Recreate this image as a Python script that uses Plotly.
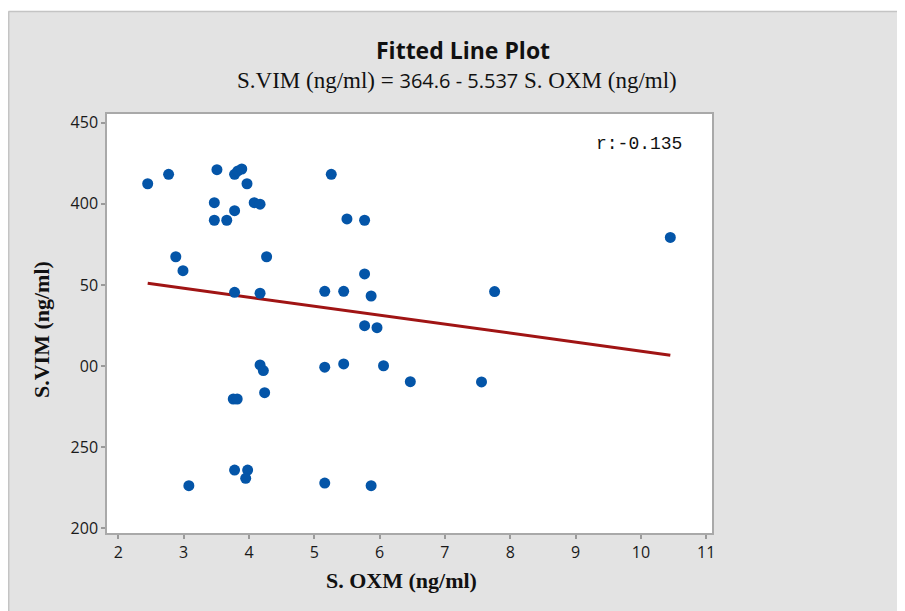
import plotly.graph_objects as go

# --- data ---
oxm = [2.45, 2.77, 3.51, 3.78, 3.83, 3.89, 3.97, 3.47, 3.78, 3.47, 3.66, 4.08, 4.17,
       5.26, 5.50, 5.77, 2.88, 2.99, 4.27, 3.78, 4.17, 5.16, 5.45, 5.77, 5.87, 5.77,
       5.96, 4.17, 4.22, 5.16, 5.45, 6.06, 6.47, 3.76, 3.82, 4.24, 3.78, 3.98, 3.95,
       3.08, 5.16, 5.87, 10.45, 7.76, 7.56]
vim = [412.4, 418.2, 421.1, 418.2, 420.3, 421.5, 412.4, 400.7, 395.8, 389.9, 389.9, 400.7, 399.8,
       418.2, 390.7, 389.9, 367.4, 358.8, 367.4, 345.5, 344.9, 346.1, 346.1, 356.8, 343.2, 324.9,
       323.7, 300.7, 297.2, 299.3, 301.3, 300.2, 290.4, 279.7, 279.7, 283.6, 235.9, 235.9, 230.8,
       226.3, 227.9, 226.3, 379.3, 345.9, 290.2]

intercept = 364.6
slope = -5.537
r_value = -0.135

x_ticks = [2, 3, 4, 5, 6, 7, 8, 9, 10, 11]
x_ticktext = ["2", "3", "4", "5", "6", "7", "8", "9", "10", "11"]
y_ticks = [200, 250, 300, 350, 400, 450]
y_ticktext = ["200", "250", "00", "50", "400", "450"]

fit_x = [min(oxm), max(oxm)]
fit_y = [intercept + slope * v for v in fit_x]

fig = go.Figure()
fig.add_trace(go.Scatter(x=fit_x, y=fit_y, mode="lines",
                         line=dict(color="#a01414", width=3), hoverinfo="skip"))
fig.add_trace(go.Scatter(x=oxm, y=vim, mode="markers",
                         marker=dict(color="#0455a8", size=11, line=dict(width=0))))

OFF = 8  # page body margin
W, H = 905 - OFF, 611 - OFF
L, R, T, B = 107 - OFF, 712 - OFF, 114 - OFF, 533 - OFF
pw, ph = R - L, B - T

def px(x):
    return (x - OFF - L) / pw

def py(y):
    return (B - (y - OFF)) / ph

axis_common = dict(showgrid=False, zeroline=False, showline=True, linecolor="#a9a9a9",
                   linewidth=1.5, mirror=True, ticks="outside", ticklen=4,
                   tickcolor="#9a9a9a", tickwidth=1.5,
                   tickfont=dict(family="Open Sans, Noto Sans, sans-serif", size=16, color="#1a1a1a"))

fig.update_layout(
    width=W, height=H,
    margin=dict(l=L, r=W - R, t=T, b=H - B, pad=0),
    paper_bgcolor="#e3e3e3", plot_bgcolor="#ffffff",
    showlegend=False,
    xaxis=dict(range=[1.827, 11.088], tickvals=x_ticks, ticktext=x_ticktext, **axis_common),
    yaxis=dict(range=[197.1, 455.4], tickvals=y_ticks, ticktext=y_ticktext, **axis_common),
    shapes=[
        dict(type="rect", xref="paper", yref="paper", x0=px(0), x1=px(920), y0=py(11), y1=py(0),
             fillcolor="#ffffff", line=dict(width=0), layer="below"),
        dict(type="line", xref="paper", yref="paper", x0=px(8.5), x1=px(920), y0=py(11.5), y1=py(11.5),
             line=dict(color="#c4c4c4", width=1.5)),
        dict(type="line", xref="paper", yref="paper", x0=px(8.7), x1=px(8.7), y0=py(11.5), y1=py(620),
             line=dict(color="#c4c4c4", width=1.5)),
    ],
    annotations=[
        dict(text="<b>Fitted Line Plot</b>", xref="paper", yref="paper", x=px(463), y=py(50),
             xanchor="center", yanchor="middle", showarrow=False,
             font=dict(family="Open Sans, Noto Sans, sans-serif", size=23, color="#111111")),
        dict(text="S.VIM (ng/ml) = <span style=\"font-family:Open Sans;font-size:20px\">364.6 - 5.537</span> S. OXM (ng/ml)",
             xref="paper", yref="paper", x=px(457), y=py(80),
             xanchor="center", yanchor="middle", showarrow=False,
             font=dict(family="Liberation Serif, Times New Roman, serif", size=23, color="#111111")),
        dict(text="r:%.3f" % r_value, xref="paper", yref="paper", x=px(684), y=py(144),
             xanchor="right", yanchor="middle", showarrow=False,
             font=dict(family="Liberation Mono, DejaVu Sans Mono, monospace", size=18, color="#111111")),
        dict(text="<b>S. OXM (ng/ml)</b>", xref="paper", yref="paper", x=px(401), y=py(580),
             xanchor="center", yanchor="middle", showarrow=False,
             font=dict(family="Liberation Serif, Times New Roman, serif", size=22, color="#111111")),
        dict(text="<b>S.VIM (ng/ml)</b>", xref="paper", yref="paper", x=px(41), y=py(330),
             xanchor="center", yanchor="middle", showarrow=False, textangle=-90,
             font=dict(family="Liberation Serif, Times New Roman, serif", size=22, color="#111111")),
    ],
)

fig.write_html("out.html")
